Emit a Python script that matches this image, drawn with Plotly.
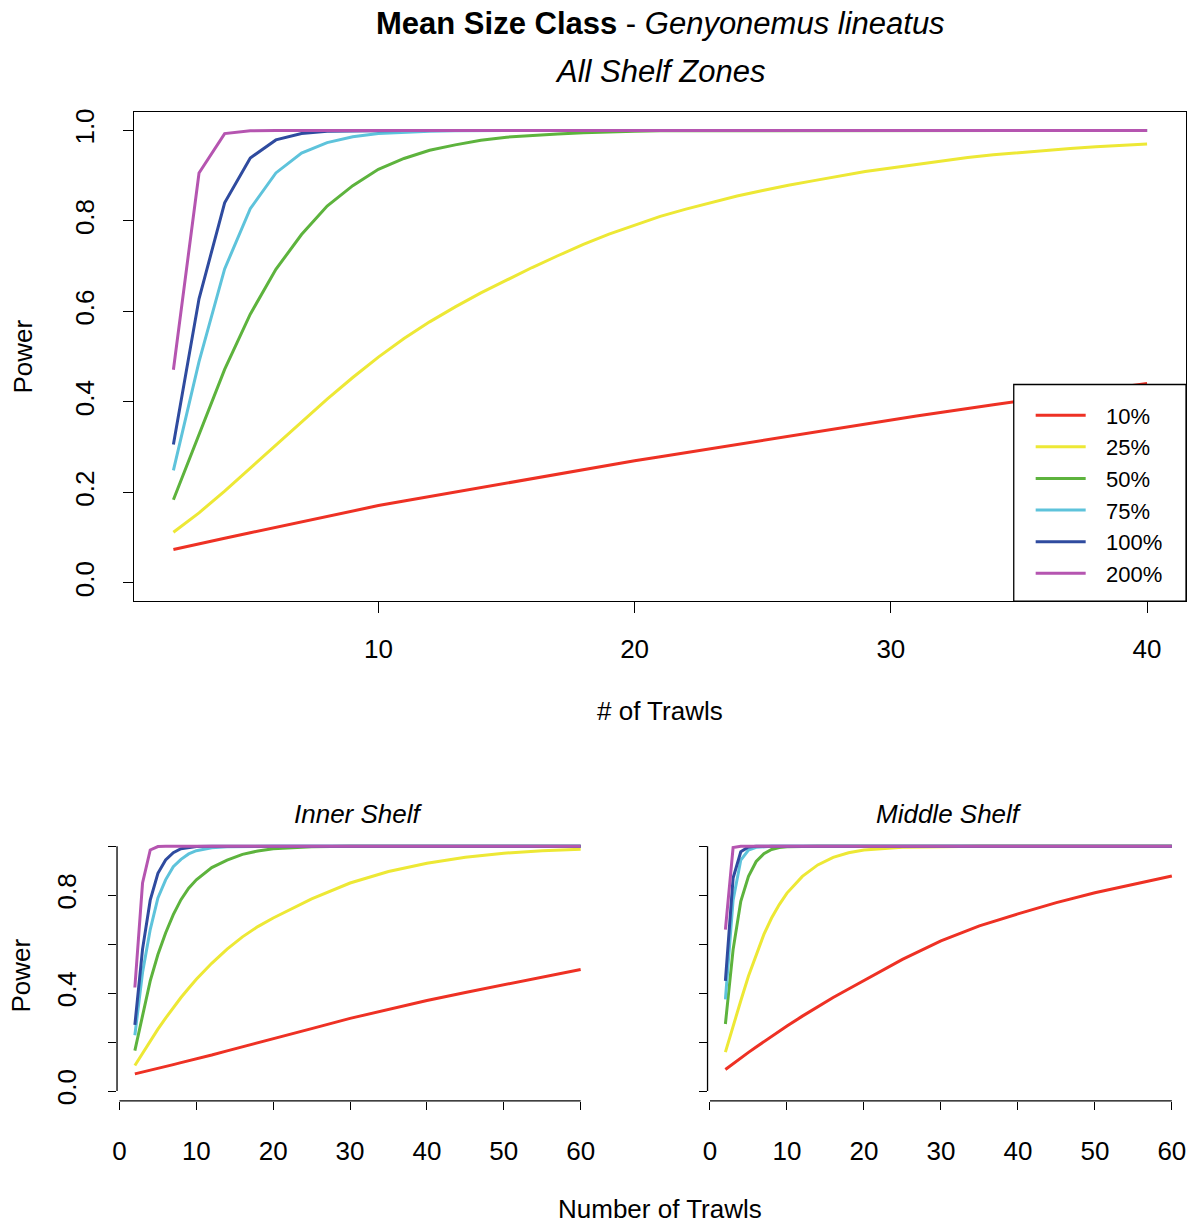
import plotly.graph_objects as go

# ---------------- data ----------------
SERIES = ["10%", "25%", "50%", "75%", "100%", "200%"]
COLORS = ["#EE3124", "#EDE835", "#5DB33D", "#5EC3DB", "#2F4B9F", "#B555B0"]

# Top panel: All Shelf Zones, trawls 2..40
X_TOP = list(range(2, 41))
TOP_10 = [0.074, 0.087, 0.099, 0.111, 0.123, 0.135, 0.147, 0.159, 0.171,
          0.181, 0.191, 0.201, 0.211, 0.221, 0.231, 0.241, 0.251, 0.261, 0.270,
          0.279, 0.288, 0.298, 0.307, 0.316, 0.325, 0.334, 0.343, 0.352, 0.360,
          0.369, 0.377, 0.386, 0.394, 0.402, 0.410, 0.418, 0.426, 0.434, 0.441]
TOP_25 = [0.112, 0.155, 0.203, 0.254, 0.305, 0.356, 0.406, 0.454, 0.499,
          0.540, 0.577, 0.610, 0.641, 0.669, 0.697, 0.723, 0.748, 0.771, 0.791,
          0.810, 0.826, 0.841, 0.855, 0.867, 0.879, 0.889, 0.899, 0.909, 0.917,
          0.925, 0.933, 0.940, 0.946, 0.951, 0.956, 0.960, 0.964, 0.967, 0.970]
TOP_50 = [0.184, 0.330, 0.472, 0.594, 0.693, 0.770, 0.833, 0.878, 0.914,
          0.938, 0.956, 0.968, 0.978, 0.985, 0.989, 0.992, 0.995, 0.997, 0.998,
          0.999, 0.999, 0.999, 0.999, 1.0, 1.0, 1.0, 1.0, 1.0, 1.0,
          1.0, 1.0, 1.0, 1.0, 1.0, 1.0, 1.0, 1.0, 1.0, 1.0]
TOP_75 = [0.249, 0.489, 0.694, 0.827, 0.906, 0.950, 0.973, 0.986, 0.993,
          0.996, 0.998, 0.999, 1.0, 1.0, 1.0, 1.0, 1.0, 1.0, 1.0,
          1.0, 1.0, 1.0, 1.0, 1.0, 1.0, 1.0, 1.0, 1.0, 1.0,
          1.0, 1.0, 1.0, 1.0, 1.0, 1.0, 1.0, 1.0, 1.0, 1.0]
TOP_100 = [0.306, 0.628, 0.840, 0.939, 0.979, 0.993, 0.998, 0.999, 1.0,
           1.0, 1.0, 1.0, 1.0, 1.0, 1.0, 1.0, 1.0, 1.0, 1.0,
           1.0, 1.0, 1.0, 1.0, 1.0, 1.0, 1.0, 1.0, 1.0, 1.0,
           1.0, 1.0, 1.0, 1.0, 1.0, 1.0, 1.0, 1.0, 1.0, 1.0]
TOP_200 = [0.471, 0.906, 0.993, 0.999, 1.0, 1.0, 1.0, 1.0, 1.0,
           1.0, 1.0, 1.0, 1.0, 1.0, 1.0, 1.0, 1.0, 1.0, 1.0,
           1.0, 1.0, 1.0, 1.0, 1.0, 1.0, 1.0, 1.0, 1.0, 1.0,
           1.0, 1.0, 1.0, 1.0, 1.0, 1.0, 1.0, 1.0, 1.0, 1.0]

# Bottom panels: trawls 2..60 (read at these trawl counts)
X_BOT = [2, 3, 4, 5, 6, 7, 8, 9, 10, 12, 14, 16, 18, 20, 25, 30, 35, 40, 45, 50, 55, 60]

INNER_10 = [0.070, 0.077, 0.085, 0.093, 0.100, 0.108, 0.116, 0.123, 0.131, 0.147, 0.164,
            0.180, 0.197, 0.213, 0.255, 0.297, 0.334, 0.370, 0.403, 0.435, 0.466, 0.497]
INNER_25 = [0.104, 0.155, 0.205, 0.253, 0.298, 0.341, 0.382, 0.420, 0.457, 0.522, 0.580,
            0.630, 0.672, 0.707, 0.785, 0.850, 0.897, 0.931, 0.955, 0.972, 0.982, 0.988]
INNER_50 = [0.165, 0.314, 0.450, 0.558, 0.646, 0.721, 0.782, 0.829, 0.863, 0.913, 0.944,
            0.967, 0.981, 0.990, 0.998, 1.0, 1.0, 1.0, 1.0, 1.0, 1.0, 1.0]
INNER_75 = [0.228, 0.484, 0.660, 0.789, 0.863, 0.917, 0.947, 0.969, 0.982, 0.994, 0.998,
            0.999, 1.0, 1.0, 1.0, 1.0, 1.0, 1.0, 1.0, 1.0, 1.0, 1.0]
INNER_100 = [0.270, 0.580, 0.780, 0.890, 0.944, 0.974, 0.990, 0.996, 0.999, 1.0, 1.0,
             1.0, 1.0, 1.0, 1.0, 1.0, 1.0, 1.0, 1.0, 1.0, 1.0, 1.0]
INNER_200 = [0.423, 0.850, 0.985, 0.999, 1.0, 1.0, 1.0, 1.0, 1.0, 1.0, 1.0,
             1.0, 1.0, 1.0, 1.0, 1.0, 1.0, 1.0, 1.0, 1.0, 1.0, 1.0]

MIDDLE_10 = [0.088, 0.112, 0.135, 0.158, 0.180, 0.202, 0.224, 0.245, 0.266, 0.306, 0.345,
             0.382, 0.417, 0.451, 0.538, 0.614, 0.675, 0.724, 0.770, 0.810, 0.846, 0.879]
MIDDLE_25 = [0.159, 0.267, 0.369, 0.470, 0.558, 0.640, 0.707, 0.762, 0.809, 0.877, 0.924,
             0.955, 0.974, 0.985, 0.996, 0.999, 1.0, 1.0, 1.0, 1.0, 1.0, 1.0]
MIDDLE_50 = [0.274, 0.578, 0.775, 0.877, 0.938, 0.970, 0.987, 0.995, 0.998, 1.0, 1.0,
             1.0, 1.0, 1.0, 1.0, 1.0, 1.0, 1.0, 1.0, 1.0, 1.0, 1.0]
MIDDLE_75 = [0.375, 0.780, 0.944, 0.985, 0.996, 0.999, 1.0, 1.0, 1.0, 1.0, 1.0,
             1.0, 1.0, 1.0, 1.0, 1.0, 1.0, 1.0, 1.0, 1.0, 1.0, 1.0]
MIDDLE_100 = [0.450, 0.870, 0.978, 0.997, 1.0, 1.0, 1.0, 1.0, 1.0, 1.0, 1.0,
              1.0, 1.0, 1.0, 1.0, 1.0, 1.0, 1.0, 1.0, 1.0, 1.0, 1.0]
MIDDLE_200 = [0.660, 0.995, 1.0, 1.0, 1.0, 1.0, 1.0, 1.0, 1.0, 1.0, 1.0,
              1.0, 1.0, 1.0, 1.0, 1.0, 1.0, 1.0, 1.0, 1.0, 1.0, 1.0]

TOP_TICKS_X = [10, 20, 30, 40]
BOT_TICKS_X = [0, 10, 20, 30, 40, 50, 60]
TICKS_Y = [0, 0.2, 0.4, 0.6, 0.8, 1.0]
TOP_TICKTEXT_Y = ["0.0", "0.2", "0.4", "0.6", "0.8", "1.0"]
BOT_TICKTEXT_Y = ["0.0", "", "0.4", "", "0.8", ""]

TOP = [TOP_10, TOP_25, TOP_50, TOP_75, TOP_100, TOP_200]
INNER = [INNER_10, INNER_25, INNER_50, INNER_75, INNER_100, INNER_200]
MIDDLE = [MIDDLE_10, MIDDLE_25, MIDDLE_50, MIDDLE_75, MIDDLE_100, MIDDLE_200]

# ---------------- figure ----------------
W, H = 1191, 1228
FONT = "Liberation Sans, Arial, Helvetica, sans-serif"
FS = 26


def px(x):
    return x / W


def py(y):
    return 1 - y / H


fig = go.Figure()
LW = 3
for name, col, ys in zip(SERIES, COLORS, TOP):
    fig.add_trace(go.Scatter(x=X_TOP, y=ys, mode="lines", name="\u2002\u2009" + name,
                             line=dict(color=col, width=LW),
                             xaxis="x", yaxis="y", showlegend=True))
for name, col, ys in zip(SERIES, COLORS, INNER):
    fig.add_trace(go.Scatter(x=X_BOT, y=ys, mode="lines", name=name,
                             line=dict(color=col, width=LW),
                             xaxis="x2", yaxis="y2", showlegend=False))
for name, col, ys in zip(SERIES, COLORS, MIDDLE):
    fig.add_trace(go.Scatter(x=X_BOT, y=ys, mode="lines", name=name,
                             line=dict(color=col, width=LW),
                             xaxis="x3", yaxis="y3", showlegend=False))

axis_common = dict(showgrid=False, zeroline=False, ticks="outside",
                   tickcolor="black", tickwidth=1.3,
                   tickfont=dict(family=FONT, size=FS, color="black"))

top_x = (130, 1186)
top_y = (109, 601)
bl_x = (112.5, 596)
br_x = (705.5, 1189.7)
b_y = (838, 1104)

fig.update_layout(
    width=W, height=H,
    margin=dict(l=0, r=0, t=0, b=0),
    paper_bgcolor="white", plot_bgcolor="white",
    font=dict(family=FONT, size=FS, color="black"),
    xaxis=dict(domain=[px(top_x[0]), px(top_x[1])], range=[0.48, 41.52],
               tickvals=TOP_TICKS_X, ticklen=11, showline=True, mirror=True,
               linecolor="black", linewidth=1.3, anchor="y",
               ticklabelstandoff=14, **axis_common),
    yaxis=dict(domain=[py(top_y[1]), py(top_y[0])], range=[-0.04, 1.04],
               tickvals=TICKS_Y, ticktext=TOP_TICKTEXT_Y, tickangle=-90,
               ticklen=10, showline=True, mirror=True, linecolor="black",
               linewidth=1.3, anchor="x", ticklabelstandoff=19, **axis_common),
    xaxis2=dict(domain=[px(bl_x[0]), px(bl_x[1])], range=[-0.32, 62.32],
                tickvals=BOT_TICKS_X, ticklen=8, showline=False, anchor="y2",
                ticklabelstandoff=19, **axis_common),
    yaxis2=dict(domain=[py(b_y[1]), py(b_y[0])], range=[-0.04, 1.04],
                tickvals=TICKS_Y, ticktext=BOT_TICKTEXT_Y, tickangle=-90,
                ticklen=8, showline=False, anchor="x2", ticklabelstandoff=22,
                **axis_common),
    xaxis3=dict(domain=[px(br_x[0]), px(br_x[1])], range=[-0.32, 62.32],
                tickvals=BOT_TICKS_X, ticklen=8, showline=False, anchor="y3",
                ticklabelstandoff=19, **axis_common),
    yaxis3=dict(domain=[py(b_y[1]), py(b_y[0])], range=[-0.04, 1.04],
                tickvals=TICKS_Y, ticktext=[""] * 6,
                ticklen=8, showline=False, anchor="x3", **axis_common),
    legend=dict(x=px(1030), y=py(393), xanchor="left", yanchor="top",
                bgcolor="rgba(0,0,0,0)", borderwidth=0, itemwidth=50,
                font=dict(family=FONT, size=22, color="black"),
                tracegroupgap=0),
    showlegend=True,
)

shapes = []
# legend frame (white filled box drawn over the lines)
shapes.append(dict(type="rect", xref="paper", yref="paper",
                   x0=px(1013), x1=px(1186), y0=py(601), y1=py(383),
                   fillcolor="white", line=dict(color="black", width=1.3),
                   layer="above"))
# R-style axis lines spanning the tick range for the bottom panels
for xa, ya in (("x2", "y2"), ("x3", "y3")):
    shapes.append(dict(type="line", xref=xa, yref=ya + " domain",
                       x0=BOT_TICKS_X[0], x1=BOT_TICKS_X[-1], y0=0, y1=0,
                       line=dict(color="black", width=1.3)))
    shapes.append(dict(type="line", xref=xa + " domain", yref=ya,
                       x0=0, x1=0, y0=TICKS_Y[0], y1=TICKS_Y[-1],
                       line=dict(color="black", width=1.3)))
fig.update_layout(shapes=shapes)


def ann(text, x, y, size=FS, angle=0):
    return dict(text=text, x=px(x), y=py(y), xref="paper", yref="paper",
                xanchor="center", yanchor="middle", showarrow=False,
                textangle=angle, font=dict(family=FONT, size=size, color="black"))


fig.update_layout(annotations=[
    ann("<b>Mean Size Class</b> - <i>Genyonemus lineatus</i>", 658, 20, size=31),
    ann("<i>All Shelf Zones</i>", 658, 68, size=31),
    ann("Power", 18, 355, angle=-90),
    ann("# of Trawls", 658, 712),
    ann("<i>Inner Shelf</i>", 355, 815),
    ann("<i>Middle Shelf</i>", 948, 815),
    ann("Power", 16, 978, angle=-90),
    ann("Number of Trawls", 658, 1213),
])

fig.write_html(
    "out.html",
    config={"displayModeBar": False},
    post_script="document.body.style.margin='0';document.body.style.overflow='hidden';",
)
